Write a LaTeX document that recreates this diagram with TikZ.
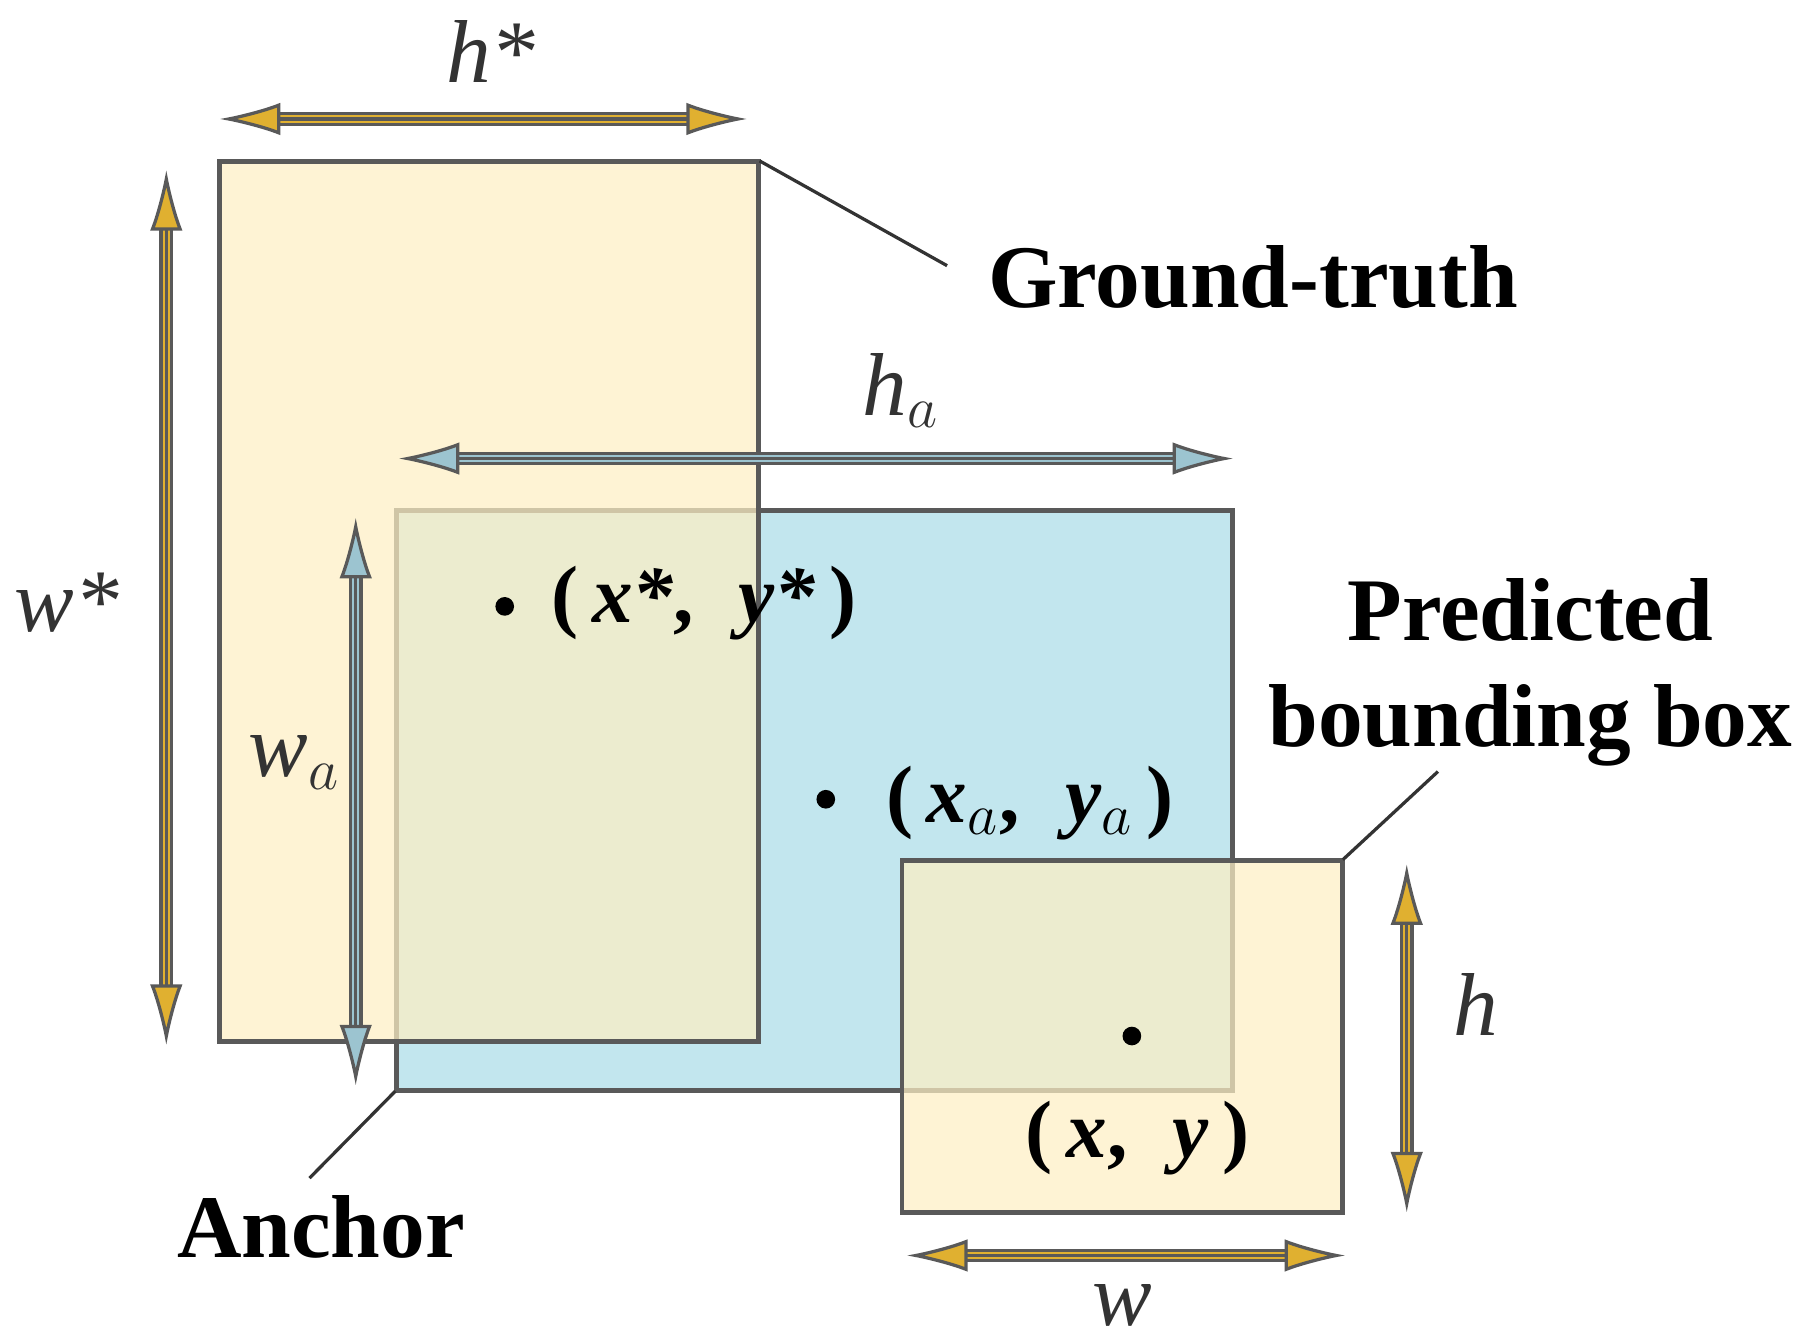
\documentclass[tikz,border=0pt]{standalone}
\usepackage{fontspec}
\setmainfont{Liberation Serif}
\usetikzlibrary{arrows.meta,fit}
\begin{document}
\begin{tikzpicture}[x=0.01cm,y=-0.01cm,
 box/.style={draw=black!65,line width=1.2pt,inner sep=0},
 dbl/.style n args={2}{draw=none,postaction={draw=black!65,line width=3.4pt,shorten <=12pt,shorten >=12pt},
   postaction={draw=#1,line width=1.8pt,shorten <=11pt,shorten >=11pt},
   postaction={draw=black!65,line width=0.8pt,{Latex[length=15pt,width=8pt,fill=#1]}-{Latex[length=15pt,width=8pt,fill=#1]},shorten <=0pt}},
 garr/.style={dbl={gold}{}},
 barr/.style={dbl={bluegr}{}},
 lab/.style={font=\fontsize{22}{24}\selectfont\itshape,text=black!80},
 bl/.style={font=\fontsize{22}{26}\selectfont\bfseries,align=center},
 pt/.style={font=\fontsize{20}{24}\selectfont\bfseries},
 lead/.style={line width=0.8pt,black!80}]
\definecolor{gy}{HTML}{FDEFC4}
\definecolor{lb}{HTML}{C2E6EE}
\definecolor{gold}{HTML}{E0B030}
\definecolor{bluegr}{HTML}{9CC4D0}
\useasboundingbox (0,0) rectangle (1568,1162);
\coordinate (an1) at (343,442); \coordinate (an2) at (1067,944);
\coordinate (gt1) at (190,140); \coordinate (gt2) at (657,902);
\coordinate (pb1) at (781,745); \coordinate (pb2) at (1162,1050);
\fill[lb] (an1) rectangle (an2);
\draw[black!65,line width=1.2pt] (an1) rectangle (an2);
\node[fit=(an1)(an2),inner sep=0] (an) {};
\fill[gy,opacity=0.72] (gt1) rectangle (gt2);
\draw[black!65,line width=1.2pt] (gt1) rectangle (gt2);
\node[fit=(gt1)(gt2),inner sep=0] (gt) {};
\fill[gy,opacity=0.72] (pb1) rectangle (pb2);
\draw[black!65,line width=1.2pt] (pb1) rectangle (pb2);
\node[fit=(pb1)(pb2),inner sep=0] (pb) {};
% arrows
\coordinate (a1) at (190,103); \coordinate (a2) at (647,103);
\path[garr] (a1) -- (a2);
\coordinate (b1) at (144,147); \coordinate (b2) at (144,905);
\path[garr] (b1) -- (b2);
\coordinate (c1) at (345,397); \coordinate (c2) at (1068,397);
\path[barr] (c1) -- (c2);
\coordinate (d1) at (308,448); \coordinate (d2) at (308,940);
\path[barr] (d1) -- (d2);
\coordinate (e1) at (1218,748); \coordinate (e2) at (1218,1050);
\path[garr] (e1) -- (e2);
\coordinate (f1) at (785,1087); \coordinate (f2) at (1165,1087);
\path[garr] (f1) -- (f2);
% labels
\node[lab] (lh) at (425,45) {h*};
\node[lab] (lw) at (58,522) {w*};
\node[lab] (lha) at (780,338) {h$_{a}$};
\node[lab] (lwa) at (255,660) {w$_{a}$};
\node[lab] (lhh) at (1278,870) {h};
\node[lab] (lww) at (972,1130) {w};
% leaders & names
\node[bl] (tg) at (1085,240) {Ground-truth};
\node[bl] (tp) at (1325,582) {Predicted\\bounding box};
\node[bl] (ta) at (278,1062) {Anchor};
\coordinate (lg) at (820,230); \coordinate (lp) at (1245,668); \coordinate (la) at (268,1020);
\draw[lead] (gt.north east) -- (lg);
\draw[lead] (pb.north east) -- (lp);
\draw[lead] (an.south west) -- (la);
% points
\fill (437,525) circle (2.3pt);
\fill (715,692) circle (2.3pt);
\fill (980,897) circle (2.3pt);
\node[pt,anchor=west] (p1) at (465,522) {(\,\textit{x*},\;\;\textit{y*}\,)};
\node[pt,anchor=west] (p2) at (755,695) {(\,\textit{x$_a$},\;\;\textit{y$_a$}\,)};
\node[pt] (p3) at (985,985) {(\,\textit{x},\;\;\textit{y}\,)};
\end{tikzpicture}
\end{document}
